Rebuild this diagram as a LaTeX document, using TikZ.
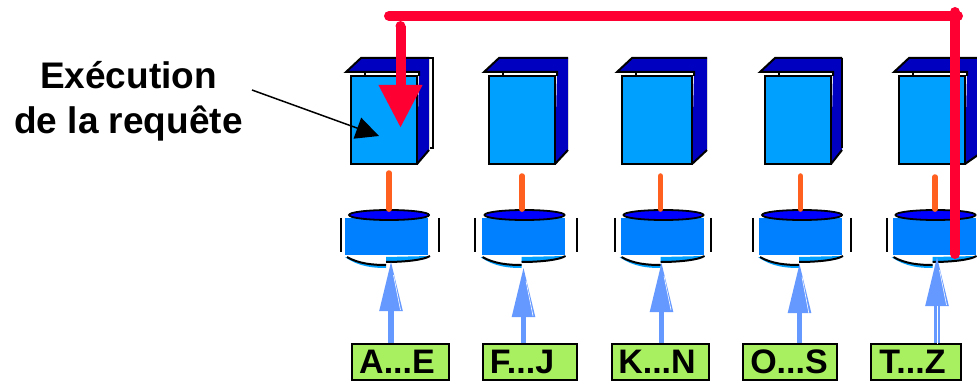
\documentclass[tikz,border=0pt]{standalone}
\usepackage{fontspec}
\setmainfont{Liberation Sans}
\usepackage{xcolor}
\usetikzlibrary{shapes,arrows.meta,positioning}
\definecolor{srvfront}{RGB}{0,160,255}
\definecolor{srvside}{RGB}{0,0,192}
\definecolor{diskbody}{RGB}{0,128,255}
\definecolor{disktop}{RGB}{0,0,255}
\definecolor{linkorange}{RGB}{255,96,32}
\definecolor{reqblue}{RGB}{102,153,255}
\definecolor{redbus}{RGB}{255,0,51}
\definecolor{rangegreen}{RGB}{168,240,96}
\tikzstyle{srvbox} = [draw=black, line width=2pt, fill=srvfront, minimum width=66pt, minimum height=88pt, inner sep=0pt]
\tikzstyle{diskbox} = [fill=diskbody, minimum width=83pt, minimum height=37pt, inner sep=0pt]
\tikzstyle{disklid} = [draw=black, ellipse, line width=1.8pt, fill=disktop, minimum width=80pt, minimum height=10pt, inner sep=0pt]
\tikzstyle{rangebox} = [draw=black, line width=1.8pt, fill=rangegreen, minimum height=36pt, inner sep=0pt, font=\bfseries\fontsize{34}{34}\selectfont]
\tikzstyle{orangeline} = [draw=linkorange, line width=5.5pt, line cap=round]
\tikzstyle{reqline} = [draw=reqblue, line width=5.5pt, -{Triangle[length=50pt,width=22pt]}]
\tikzstyle{redline} = [draw=redbus, line width=10pt, line cap=round]
\tikzstyle{rim} = [black, line width=2pt]
% back and top of a server: left, front right, back right
\newcommand{\srvback}[3]{
  \fill[srvside] (#1-5,72) -- (#1+10,58) -- (#3,58) -- (#3,150) -- (#2,164) -- (#2+2,72) -- cycle;
  \draw[rim] (#2+2,76) -- (#2+2,72) -- (#1-5,72) -- (#1+10,58) -- (#3,58);
  \draw[rim] (#2,164) -- (#3,150);
  \draw[black!15!white, line width=0.8pt] (#3,59) -- (#3,149);
  \draw[rim] (#1+14,72) -- (#1+14,76);
}
% lower rim of a disk and its two side bars: centre, left bar, right bar
\newcommand{\diskrim}[3]{
  \fill[srvfront] (#1-44,257) .. controls (#1-30,267) and (#1-15,268) .. (#1-3,268) -- (#1-3,264) -- cycle;
  \fill[white] (#1-42,257) .. controls (#1-30,264) and (#1-15,265) .. (#1-3,265) -- (#1-3,257) -- cycle;
  \draw[rim] (#1-42,257) .. controls (#1-30,264) and (#1-15,265) .. (#1-3,265);
  \fill[srvfront] (#1-3,257) -- (#1-3,262) .. controls (#1+15,262) and (#1+35,260) .. (#1+41,256) -- cycle;
  \draw[rim] (#1-3,262) .. controls (#1+15,262) and (#1+35,260) .. (#1+41,256);
  \draw[rim] (#2,218) -- (#2,252);
  \draw[rim] (#3,218) -- (#3,252);
}

\begin{document}
\begin{tikzpicture}[x=1pt, y=-1pt]
    \useasboundingbox (0,0) rectangle (977,382);

    % Place servers
    \draw[black, fill=white, line width=1.5pt] (420,58) rectangle (433,148);
    \srvback{351}{417}{429}
    \srvback{489}{555}{568}
    \srvback{622}{692}{707}
    \srvback{765}{831}{842}
    \draw[black, line width=2pt] (842,58) -- (842,148);
    \srvback{899}{965}{985}
    \node [srvbox] (srvA) at (384,120) {};
    \node [srvbox] (srvB) at (521.5,120) {};
    \node [srvbox, minimum width=70pt] (srvK) at (657,120) {};
    \node [srvbox] (srvO) at (798,120) {};
    \node [srvbox] (srvT) at (932,120) {};

    % Place disks
    \diskrim{389}{341}{439}
    \diskrim{524.5}{475}{577}
    \diskrim{663.5}{615}{711}
    \diskrim{802}{753}{851}
    \diskrim{935.5}{887}{990}
    \node [diskbox] (diskA) at (386.5,236.5) {};
    \node [diskbox] (diskB) at (523.5,236.5) {};
    \node [diskbox] (diskK) at (662.5,236.5) {};
    \node [diskbox] (diskO) at (800.5,236.5) {};
    \node [diskbox] (diskT) at (934.5,236.5) {};
    \node [disklid] (lidA) at (389,215) {};
    \node [disklid] (lidB) at (524.5,215) {};
    \node [disklid] (lidK) at (663.5,215) {};
    \node [disklid] (lidO) at (802,215) {};
    \node [disklid] (lidT) at (935.5,215) {};

    % Place ranges
    \node [rangebox, minimum width=97pt] (rangeA) at (400.5,362) {A...E\kern7pt};
    \node [rangebox, minimum width=94pt] (rangeB) at (530,362) {F...J\kern16pt};
    \node [rangebox, minimum width=97pt] (rangeK) at (660.5,362) {K...N\kern7pt};
    \node [rangebox, minimum width=94pt] (rangeO) at (790,362) {O...S\kern2pt};
    \node [rangebox, minimum width=90pt] (rangeT) at (916,362) {T...Z\kern7pt};

    \node [align=center, font=\bfseries\fontsize{37}{45}\selectfont] (exec) at (128.5,101) {Exécution\\de la requête};

    % Free ends
    \coordinate (stubA) at (389,173);
    \coordinate (stubB) at (522,176);
    \coordinate (stubK) at (660.5,176);
    \coordinate (stubO) at (800.5,176);
    \coordinate (stubT) at (935,177);
    \coordinate (tipA) at (391,261);
    \coordinate (tipB) at (523.5,267);
    \coordinate (tipK) at (661.5,262);
    \coordinate (tipO) at (799.5,263);
    \coordinate (tipT) at (937,256);
    \coordinate (busW) at (389,16);
    \coordinate (busE) at (958,16);
    \coordinate (busN) at (955,12);
    \coordinate (busS) at (955,254);
    \coordinate (dropS) at (400.5,26);
    \coordinate (dropE) at (400.5,128);
    \coordinate (execS) at (252,90);
    \coordinate (execE) at (379,136);

    \path [orangeline] (stubA) -- (stubA |- lidA.north);
    \path [orangeline] (stubB) -- (stubB |- lidB.north);
    \path [orangeline] (stubK) -- (stubK |- lidK.north);
    \path [orangeline] (stubO) -- (stubO |- lidO.north);
    \path [orangeline] (stubT) -- (stubT |- lidT.north);

    \path [reqline] (tipA |- rangeA.north) -- (tipA);
    \path [reqline] (tipB |- rangeB.north) -- (tipB);
    \path [reqline] (tipK |- rangeK.north) -- (tipK);
    \path [reqline] (tipO |- rangeO.north) -- (tipO);
    \path [reqline] (tipT |- rangeT.north) -- (tipT);
    \draw [white, line width=0.6pt] (937,306) -- (937,344);
    \draw [white, line width=0.6pt] (393.5,275) -- (400.5,310);
    \draw [white, line width=0.6pt] (526,281) -- (533,316);
    \draw [white, line width=0.6pt] (664,276) -- (671,310);
    \draw [white, line width=0.6pt] (802,277) -- (809,314);
    \draw [white, line width=0.6pt] (939.5,270) -- (946.5,305);

    \draw [black, line width=1.5pt, -{Triangle[length=23pt,width=22pt]}] (execS) -- (execE);

    \path [redline] (busW) -- (busE);
    \path [redline] (busN) -- (busS);
    \path [draw=redbus, line width=10pt, -{Triangle[length=43pt,width=41pt]}] (dropS) -- (dropE);
    \fill [redbus] (dropS) circle (5pt);

\end{tikzpicture}
\end{document}
